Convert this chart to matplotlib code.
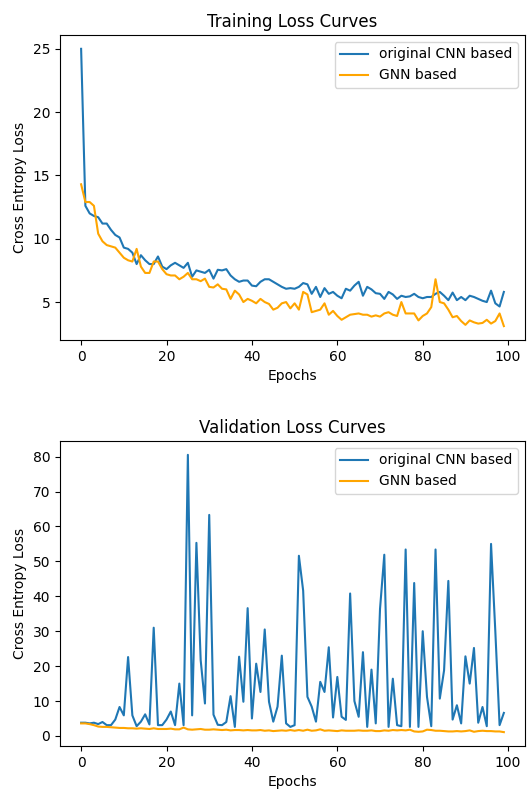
"""
Loss curves for the CNN baseline vs the GNN model.

Plots training and validation cross entropy loss per epoch for both runs,
stacked in one figure.
"""

import matplotlib
matplotlib.use("Agg")  # Non-interactive backend
import matplotlib.pyplot as plt
import numpy as np


EPOCHS = np.arange(100)

# Training loss, original CNN based model
cnn_train_loss = [
    25.0, 12.6, 12.0, 11.8, 11.7, 11.2, 11.2, 10.7, 10.3, 10.1,
    9.3, 9.2, 8.9, 8.0, 8.7, 8.3, 8.0, 8.0, 8.6, 7.8,
    7.6, 7.9, 8.1, 7.9, 7.7, 8.1, 7.0, 7.5, 7.4, 7.3,
    7.55, 6.85, 7.55, 7.5, 7.6, 7.1, 6.8, 6.6, 6.7, 6.7,
    6.3, 6.25, 6.6, 6.8, 6.8, 6.6, 6.4, 6.2, 6.05, 6.1,
    6.05, 6.2, 6.5, 6.4, 5.65, 6.2, 5.4, 6.1, 5.65, 5.8,
    5.5, 5.3, 6.05, 5.9, 6.3, 6.6, 5.5, 6.2, 6.0, 5.7,
    5.65, 5.25, 5.8, 5.6, 5.25, 5.5, 5.4, 5.45, 5.65, 5.4,
    5.3, 5.4, 5.4, 5.65, 5.8, 5.5, 5.15, 5.75, 5.15, 5.4,
    5.15, 5.5, 5.4, 5.25, 5.1, 5.0, 5.9, 4.9, 4.65, 5.8,
]

# Training loss, GNN based model
gnn_train_loss = [
    14.3, 12.9, 12.9, 12.6, 10.4, 9.8, 9.5, 9.4, 9.3, 8.9,
    8.5, 8.3, 8.2, 9.2, 7.8, 7.3, 7.3, 8.2, 8.2, 7.6,
    7.2, 7.1, 7.1, 6.8, 7.0, 7.3, 6.8, 6.8, 6.65, 6.85,
    6.2, 6.15, 6.4, 6.05, 6.0, 5.25, 5.9, 5.6, 5.0, 5.25,
    5.1, 4.9, 5.25, 5.0, 4.85, 4.4, 4.55, 4.9, 5.0, 4.5,
    4.9, 4.4, 5.8, 5.6, 4.2, 4.3, 4.4, 4.9, 4.0, 4.3,
    3.9, 3.6, 3.8, 4.0, 4.05, 4.1, 4.0, 4.0, 3.85, 3.95,
    3.85, 4.1, 4.2, 4.0, 3.9, 5.0, 4.1, 4.1, 4.1, 3.55,
    3.9, 4.1, 4.6, 6.8, 5.0, 4.9, 4.4, 3.8, 3.9, 3.5,
    3.2, 3.55, 3.4, 3.3, 3.35, 3.6, 3.3, 3.5, 4.1, 3.1,
]

# Validation loss, original CNN based model
cnn_val_loss = [
    3.8, 3.8, 3.6, 3.8, 3.4, 4.0, 3.1, 3.1, 4.7, 8.3,
    5.9, 22.6, 5.9, 2.8, 4.1, 6.2, 3.3, 31.0, 3.1, 3.1,
    4.7, 7.0, 3.1, 15.0, 3.1, 80.5, 5.9, 55.3, 21.7, 9.3,
    63.3, 6.1, 3.2, 3.1, 4.0, 11.4, 2.6, 22.7, 9.8, 36.6,
    5.0, 20.7, 12.6, 30.5, 9.8, 4.1, 8.4, 23.0, 3.6, 2.6,
    3.1, 51.6, 41.6, 11.2, 8.4, 4.1, 15.5, 12.6, 25.4, 5.3,
    16.9, 5.5, 4.6, 40.8, 10.0, 5.5, 24.0, 2.6, 19.0, 3.6,
    36.4, 51.9, 2.6, 16.4, 3.1, 2.8, 53.4, 2.6, 43.8, 2.6,
    30.0, 11.2, 2.8, 53.4, 10.7, 18.8, 44.4, 4.7, 8.8, 3.6,
    22.8, 15.0, 25.2, 3.8, 8.3, 2.8, 55.0, 30.0, 3.1, 6.6,
]

# Validation loss, GNN based model
gnn_val_loss = [
    3.6, 3.6, 3.4, 3.1, 2.7, 2.6, 2.6, 2.5, 2.4, 2.3,
    2.3, 2.2, 2.2, 2.1, 2.2, 2.1, 2.0, 2.2, 2.0, 2.0,
    2.0, 2.1, 1.9, 1.9, 2.4, 1.9, 1.8, 1.9, 2.0, 1.8,
    1.8, 1.9, 1.8, 1.7, 1.8, 1.6, 1.7, 1.7, 1.6, 1.7,
    1.6, 1.6, 1.7, 1.5, 1.6, 1.4, 1.5, 1.6, 1.5, 1.7,
    1.5, 1.7, 1.5, 1.8, 1.5, 1.6, 1.9, 1.5, 1.6, 1.5,
    1.4, 1.6, 1.5, 1.5, 1.5, 1.6, 1.5, 1.5, 1.6, 1.4,
    1.4, 1.6, 1.5, 1.7, 1.6, 1.7, 1.6, 1.8, 1.3, 1.2,
    1.3, 1.8, 1.7, 1.5, 1.5, 1.4, 1.3, 1.3, 1.4, 1.3,
    1.4, 1.6, 1.2, 1.4, 1.5, 1.4, 1.4, 1.3, 1.3, 1.1,
]


def plot_curves(ax, cnn_loss, gnn_loss, title):
    """Draw both models' loss against epoch on one axes."""
    ax.plot(EPOCHS, cnn_loss, color="#1f77b4", label="original CNN based")
    ax.plot(EPOCHS, gnn_loss, color="orange", label="GNN based")
    ax.set_title(title, fontsize=12)
    ax.set_xlabel("Epochs")
    ax.set_ylabel("Cross Entropy Loss")
    ax.legend(loc="upper right")


def main():
    fig = plt.figure(figsize=(5.28, 7.89), dpi=100)
    ax_train = fig.add_axes([0.1136, 0.5691, 0.8807, 0.3866])
    ax_val = fig.add_axes([0.1136, 0.0545, 0.8807, 0.3866])

    plot_curves(ax_train, cnn_train_loss, gnn_train_loss, "Training Loss Curves")
    plot_curves(ax_val, cnn_val_loss, gnn_val_loss, "Validation Loss Curves")

    fig.savefig("out.png", dpi=100)
    plt.close(fig)


if __name__ == "__main__":
    main()
